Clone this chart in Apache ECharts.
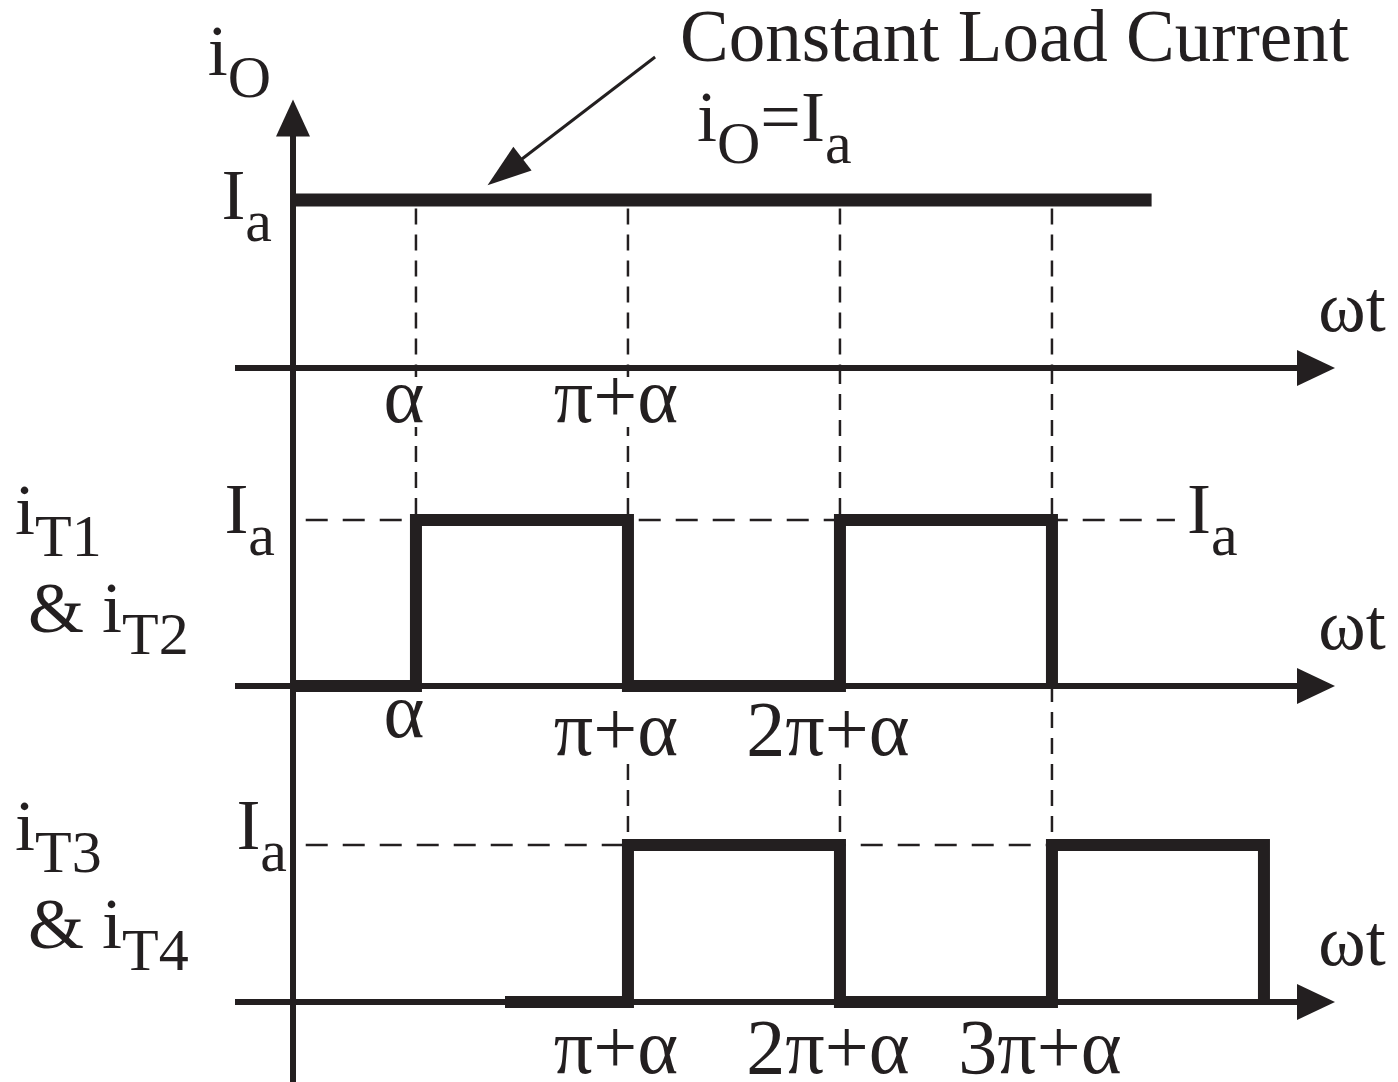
<!DOCTYPE html>
<html>
<head>
<meta charset="utf-8">
<title>Single phase full converter - load and thyristor currents</title>
<script src="https://cdn.jsdelivr.net/npm/echarts@6.0.0/dist/echarts.min.js"></script>
<style>
  html, body { margin: 0; padding: 0; background: #fff; }
  #chart { width: 1398px; height: 1082px; }
</style>
</head>
<body>
<div id="chart"></div>
<script>
// time is in units of pi (wt / pi), current in units of Ia
var ALPHA = 0.58;

// load current io = Ia (top panel)
var ioLine = [[0, 1], [4.05, 1]];
// iT1 & iT2 : step points (value held until the next point)
var t12Steps = [[0, 0], [ALPHA, 1], [1 + ALPHA, 0], [2 + ALPHA, 1], [3 + ALPHA, 0]];
// iT3 & iT4
var t34Steps = [[1, 0], [1 + ALPHA, 1], [2 + ALPHA, 0], [3 + ALPHA, 1], [4 + ALPHA, 0]];
// dashed Ia reference level in the two lower panels
var iaLevel = [[0.06, 1], [4.16, 1]];

// tick labels of each time axis
var tickPos1 = [ALPHA, 1 + ALPHA];
var tickText1 = ['α', 'π+α'];
var tickPos2 = [ALPHA, 1 + ALPHA, 2 + ALPHA];
var tickText2 = ['α', 'π+α', '2π+α'];
var tickPos3 = [1 + ALPHA, 2 + ALPHA, 3 + ALPHA];
var tickText3 = ['π+α', '2π+α', '3π+α'];

// dashed vertical guides: start just under the io line, stop in panel / level
var guideTimes = [ALPHA, 1 + ALPHA, 2 + ALPHA, 3 + ALPHA];
var guideTopLevel = 0.95;
var guideStopPanel = [1, 2, 2, 2];
var guideStopLevel = [1, 1, 0, 0];

// annotation arrow "Constant Load Current" (from text to io line)
var noteArrow = [[1.708, 1.851], [1.0, 1.167]];

// ---------- layout (pixels) ----------
var W = 1398, H = 1082;
var ORIGIN_X = 293, PX_PI = 212, AXIS_LEFT = 235, AXIS_END = 1316;
// labels of y axes sit at the grid's left edge, x labels at the grid's bottom edge
var rows = [
  { top: 118, axis: 368, ia: 200, bottom: 368, iaMargin: -37, iaLift: 0, tickMargin: 9 },
  { top: 368, axis: 686, ia: 520, bottom: 686, iaMargin: -40, iaLift: 6, tickMargin: 6 },
  { top: 686, axis: 1002, ia: 845, bottom: 1082, iaMargin: -52, iaLift: 15, tickMargin: -54 }
];
var tickStyle = [['hi', 'hi'], ['hi', 'lo', 'lo'], ['hi', 'hi', 'hi']];
var xMin = (AXIS_LEFT - ORIGIN_X) / PX_PI;
var xMax = (AXIS_END - ORIGIN_X) / PX_PI;
rows.forEach(function (r) {
  var u = r.axis - r.ia;
  r.yMax = (r.axis - r.top) / u;
  r.yMin = -(r.bottom - r.axis) / u;
});

var FONT = "'Liberation Serif', 'Times New Roman', serif";
var INK = '#231f20';

var rich = {
  big: { fontFamily: FONT, fontSize: 72, fontWeight: 'normal', height: 60, lineHeight: 60, verticalAlign: 'top', color: INK },
  sm: { fontFamily: FONT, fontSize: 60, fontWeight: 'normal', height: 40, lineHeight: 40, padding: [35, 0, 0, 0], verticalAlign: 'top', color: INK },
  hi: { fontFamily: FONT, fontSize: 78, height: 50, lineHeight: 50, padding: [0, 24, 0, 0], backgroundColor: '#fff', color: INK },
  lo: { fontFamily: FONT, fontSize: 78, height: 50, lineHeight: 68, padding: [18, 24, 0, 0], backgroundColor: '#fff', color: INK }
};
function sub(a, b) {
  return '{big|' + a + '}{sm|' + b + '}';
}
function nearest(arr, v) {
  var best = 0;
  for (var i = 1; i < arr.length; i++) {
    if (Math.abs(arr[i] - v) < Math.abs(arr[best] - v)) best = i;
  }
  return best;
}

var tickPos = [tickPos1, tickPos2, tickPos3];
var tickText = [tickText1, tickText2, tickText3];

var grids = [], xAxes = [], yAxes = [];
rows.forEach(function (r, i) {
  grids.push({
    left: AXIS_LEFT, right: W - AXIS_END, top: r.top, height: r.bottom - r.top,
    containLabel: false, outerBoundsMode: 'none'
  });
  xAxes.push({
    gridIndex: i, type: 'value', min: xMin, max: xMax, z: 5,
    axisLine: {
      onZero: true, symbol: ['none', 'triangle'], symbolSize: [36, 38],
      lineStyle: { color: INK, width: 6, cap: 'butt' }
    },
    axisTick: { show: false },
    splitLine: { show: false },
    axisLabel: {
      customValues: tickPos[i], margin: r.tickMargin, rich: rich,
      formatter: (function (idx) {
        return function (v) {
          var k = nearest(tickPos[idx], v);
          return '{' + tickStyle[idx][k] + '|' + tickText[idx][k] + '}';
        };
      })(i)
    },
    name: 'ωt', nameLocation: 'end', nameGap: 36,
    nameTextStyle: {
      fontFamily: FONT, fontSize: 72, lineHeight: 60, color: INK,
      align: 'center', verticalAlign: 'bottom', padding: [0, 0, 26, 0]
    }
  });
  yAxes.push({
    gridIndex: i, type: 'value', min: r.yMin, max: r.yMax, z: 5,
    axisLine: {
      onZero: true, symbol: i === 0 ? ['none', 'triangle'] : 'none', symbolSize: [34, 37],
      lineStyle: { color: INK, width: 6, cap: 'butt' }
    },
    axisTick: { show: false },
    splitLine: { show: false },
    axisLabel: {
      customValues: [1], margin: r.iaMargin, rich: rich,
      padding: [0, 0, 2 * r.iaLift, 0],
      formatter: function () { return sub('I', 'a'); }
    },
    name: i === 0 ? sub('i', 'O') : '',
    nameLocation: 'end', nameGap: 32,
    nameTextStyle: { rich: rich, align: 'right', verticalAlign: 'bottom', padding: [0, 22, 0, 0] }
  });
});

function dashed(panel, data, dash) {
  return {
    type: 'line', xAxisIndex: panel, yAxisIndex: panel, data: data,
    symbol: 'none', silent: true, z: 1,
    lineStyle: { color: INK, width: 2.5, type: dash }
  };
}
function wave(panel, data, step, width) {
  return {
    type: 'line', xAxisIndex: panel, yAxisIndex: panel, data: data, step: step,
    symbol: 'none', silent: true, z: 3,
    lineStyle: { color: INK, width: width, cap: 'butt', join: 'miter' }
  };
}

var series = [];
series.push(wave(0, ioLine, false, 13));
series.push(wave(1, t12Steps, 'end', 12));
series.push(wave(2, t34Steps, 'end', 12));

var ia2 = dashed(1, iaLevel, [22, 15]);
ia2.endLabel = {
  show: true, distance: 12, rich: rich, padding: [0, 0, 12, 0],
  formatter: function () { return sub('I', 'a'); }
};
series.push(ia2);
series.push(dashed(2, iaLevel, [22, 15]));

guideTimes.forEach(function (t, g) {
  for (var p = 0; p <= guideStopPanel[g]; p++) {
    var yTop = p === 0 ? guideTopLevel : rows[p].yMax;
    var yBot = p === guideStopPanel[g] ? guideStopLevel[g] : rows[p].yMin;
    series.push(dashed(p, [[t, yTop], [t, yBot]], [16, 10]));
  }
});

series.push({
  type: 'lines', coordinateSystem: 'cartesian2d', xAxisIndex: 0, yAxisIndex: 0,
  clip: false, silent: true, z: 4,
  symbol: ['none', 'triangle'], symbolSize: [0, [30, 44]],
  lineStyle: { color: INK, width: 3, opacity: 1, curveness: 0 },
  data: [{ coords: noteArrow }]
});

var titleText = { rich: rich, fontFamily: FONT, fontWeight: 'normal', color: INK };
var option = {
  animation: false,
  backgroundColor: '#fff',
  title: [
    { text: 'Constant Load Current', left: 680, top: 12, padding: 0,
      textStyle: { fontFamily: FONT, fontSize: 73, fontWeight: 'normal', lineHeight: 60, color: INK } },
    { text: sub('i', 'O') + '{big|=I}{sm|a}', left: 697, top: 92, padding: 0, textStyle: titleText },
    { text: sub('i', 'T1'), left: 15, top: 485, padding: 0, textStyle: titleText },
    { text: '{big|& i}{sm|T2}', left: 28, top: 583, padding: 0, textStyle: titleText },
    { text: sub('i', 'T3'), left: 15, top: 801, padding: 0, textStyle: titleText },
    { text: '{big|& i}{sm|T4}', left: 28, top: 899, padding: 0, textStyle: titleText }
  ],
  grid: grids,
  xAxis: xAxes,
  yAxis: yAxes,
  series: series
};

var chart = echarts.init(document.getElementById('chart'), null, { renderer: 'canvas' });
chart.setOption(option);
</script>
</body>
</html>
